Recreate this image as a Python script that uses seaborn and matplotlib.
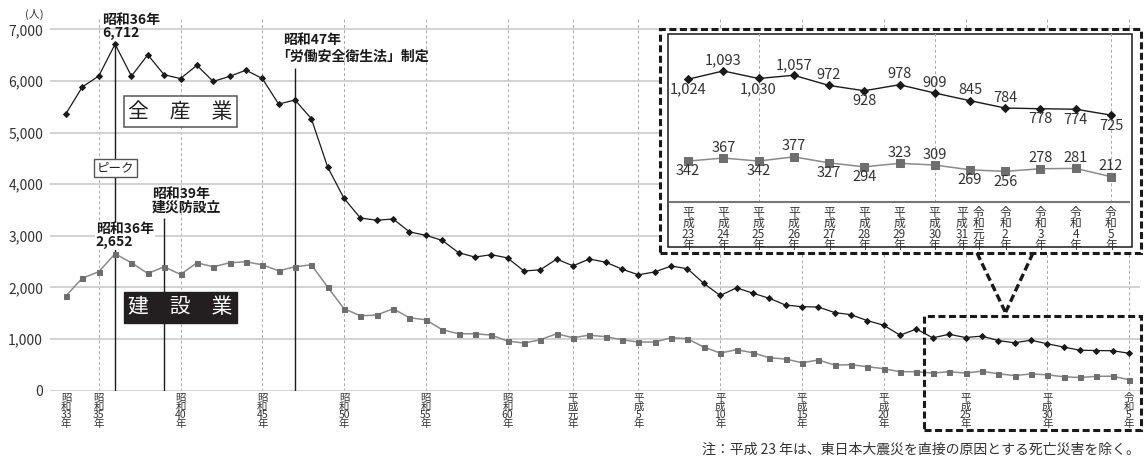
import matplotlib
matplotlib.use("Agg")
import matplotlib.pyplot as plt
import seaborn as sns
from matplotlib.patches import Rectangle
from matplotlib.lines import Line2D

# ===== データ =====
years = list(range(1958, 2024))
all_industries = [5368, 5885, 6095, 6712, 6093, 6506, 6119, 6046, 6303, 5990,
                  6088, 6208, 6048, 5552, 5631, 5269, 4330, 3725, 3345, 3302,
                  3326, 3077, 3009, 2912, 2674, 2588, 2635, 2572, 2318, 2342,
                  2549, 2419, 2550, 2489, 2354, 2245, 2301, 2414, 2363, 2078,
                  1844, 1992, 1889, 1790, 1658, 1628, 1620, 1514, 1472, 1357,
                  1268, 1075, 1195, 1024, 1093, 1030, 1057, 972, 928, 978,
                  909, 845, 784, 778, 774, 725]
construction = [1839, 2181, 2303, 2652, 2477, 2271, 2400, 2252, 2477, 2400,
                2477, 2497, 2439, 2323, 2400, 2439, 2006, 1587, 1452, 1465,
                1587, 1413, 1374, 1181, 1103, 1103, 1077, 961, 923, 987,
                1103, 1026, 1077, 1045, 987, 942, 942, 1026, 1006, 845,
                729, 794, 735, 639, 613, 542, 594, 497, 503, 465,
                426, 368, 368, 342, 367, 342, 377, 327, 294, 323,
                309, 269, 256, 278, 281, 212]

tick_years = [1958, 1960, 1965, 1970, 1975, 1980, 1985, 1989, 1993, 1998,
              2003, 2008, 2013, 2018, 2023]
tick_labels = ["昭\n和\n33\n年", "昭\n和\n35\n年", "昭\n和\n40\n年", "昭\n和\n45\n年",
               "昭\n和\n50\n年", "昭\n和\n55\n年", "昭\n和\n60\n年", "平\n成\n元\n年",
               "平\n成\n5\n年", "平\n成\n10\n年", "平\n成\n15\n年", "平\n成\n20\n年",
               "平\n成\n25\n年", "平\n成\n30\n年", "令\n和\n5\n年"]
y_ticks = [0, 1000, 2000, 3000, 4000, 5000, 6000, 7000]

# 拡大図（平成23年～令和5年）
inset_years = years[53:]
inset_all = all_industries[53:]
inset_con = construction[53:]
inset_all_pos = ["down", "up", "down", "up", "up", "down", "up", "up", "up", "up",
                 "down", "down", "down"]
inset_con_pos = ["down", "up", "down", "up", "down", "down", "up", "up", "down", "down",
                 "up", "up", "up"]
inset_tick_labels = ["平\n成\n23\n年", "平\n成\n24\n年", "平\n成\n25\n年", "平\n成\n26\n年",
                     "平\n成\n27\n年", "平\n成\n28\n年", "平\n成\n29\n年", "平\n成\n30\n年",
                     "平\n成\n31\n年", "令\n和\n元\n年", "令\n和\n2\n年", "令\n和\n3\n年",
                     "令\n和\n4\n年", "令\n和\n5\n年"]
inset_grid_idx = [2, 7, 12]

# ===== スタイル =====
sns.set_theme(style="white")
plt.rcParams["font.family"] = ["Noto Sans CJK JP", "DejaVu Sans"]

W, H = 1144, 458
BLACK = "#1a1a1a"
GRAY = "#6e6e6e"


def fx(x):
    return x / W


def fy(y):
    return 1 - y / H


fig = plt.figure(figsize=(W / 100, H / 100), dpi=100)

# ===== メインチャート =====
ax = fig.add_axes([fx(50), fy(390.7), (1140 - 50) / W, (390.7 - 18) / H])
ax.set_xlim(1957.02, 2023.67)
ax.set_ylim(0, 7219)
for s in ax.spines.values():
    s.set_visible(False)

ax.set_yticks(y_ticks, [f"{v:,}" for v in y_ticks])
ax.yaxis.grid(True, color="#cfcfcf", lw=1.3)
ax.set_axisbelow(True)
for yv in tick_years[1:]:
    ax.axvline(yv, color="#a8a8a8", lw=0.7, ls=(0, (3, 2.5)), zorder=0)
ax.set_xticks(tick_years, tick_labels)
ax.tick_params(axis="x", length=0, pad=2, labelsize=7.5, labelcolor="#333333")
ax.tick_params(axis="y", length=0, pad=5, labelsize=10, labelcolor="#333333")
for lbl in ax.get_xticklabels():
    lbl.set_linespacing(0.8)

sns.lineplot(x=years, y=construction, ax=ax, color="#8a8a8a", lw=1.1,
             marker="s", markersize=3.6, markerfacecolor=GRAY,
             markeredgecolor=GRAY, zorder=3)
sns.lineplot(x=years, y=all_industries, ax=ax, color=BLACK, lw=0.9,
             marker="D", markersize=3.0, markerfacecolor=BLACK,
             markeredgecolor=BLACK, zorder=3)

# 注釈線
peak_i = all_industries.index(max(all_industries))
peak_year = years[peak_i]
ax.vlines(peak_year, 0, all_industries[peak_i], color=BLACK, lw=1.0, zorder=2)
ax.vlines(1964, 0, 3350, color=BLACK, lw=1.0, zorder=2)
ax.vlines(1972, 0, 6260, color=BLACK, lw=1.0, zorder=2)

bold = dict(fontsize=10, fontweight="bold", color=BLACK, linespacing=0.88)
ax.text(1960.2, 6800, f"昭和36年\n{all_industries[peak_i]:,}", ha="left", va="bottom",
        zorder=5, **bold)
ax.text(1959.83, 2745, f"昭和36年\n{construction[peak_i]:,}", ha="left", va="bottom",
        zorder=5, bbox=dict(facecolor="white", edgecolor="none", pad=0.5), **bold)
ax.text(1963.25, 3420, "昭和39年\n建災防設立", ha="left", va="bottom", zorder=5, **bold)
ax.annotate("「労働安全衛生法」制定", (1971.26, 6347), xytext=(-5, 0),
            textcoords="offset points", ha="left", va="bottom", zorder=5, **bold)
ax.annotate("昭和47年", (1971.26, 6347), xytext=(0, 11.5), textcoords="offset points",
            ha="left", va="bottom", zorder=5, **bold)

ax.text(peak_year, 4313, "ピーク", ha="center", va="center", fontsize=9, color="#222222",
        zorder=5, bbox=dict(boxstyle="square,pad=0.22", facecolor="white",
                            edgecolor="#555555", lw=1.0))
ax.text(1965.0, 5400, "全　産　業", ha="center", va="center", fontsize=15, color="#222222",
        zorder=5, bbox=dict(boxstyle="square,pad=0.22", facecolor="white",
                            edgecolor="#555555", lw=1.1))
ax.text(1965.0, 1617, "建　設　業", ha="center", va="center", fontsize=15, color="white",
        zorder=5, bbox=dict(boxstyle="square,pad=0.22", facecolor="#231f20",
                            edgecolor="#231f20", lw=1.0))

fig.text(fx(34), fy(14), "(人)", ha="center", va="center", fontsize=8, color="#333333")
fig.text(fx(1140), fy(450), "注：平成 23 年は、東日本大震災を直接の原因とする死亡災害を除く。",
         ha="right", va="center", fontsize=10, color="#333333")

# ===== 拡大図の枠 =====
dash = (0, (2.3, 1.15))
fig.add_artist(Rectangle((fx(660), fy(252.5)), (1141.5 - 660) / W, (252.5 - 28.5) / H,
                         transform=fig.transFigure, facecolor="white", edgecolor="none",
                         zorder=2))
fig.add_artist(Rectangle((fx(660), fy(252.5)), (1141.5 - 660) / W, (252.5 - 28.5) / H,
                         transform=fig.transFigure, facecolor="none", edgecolor=BLACK,
                         lw=2.2, ls=dash, zorder=4))
fig.add_artist(Rectangle((fx(668), fy(246.5)), (1132 - 668) / W, (246.5 - 33.5) / H,
                         transform=fig.transFigure, facecolor="none", edgecolor=BLACK,
                         lw=1.1, zorder=4))
fig.add_artist(Rectangle((fx(924), fy(430)), (1141 - 924) / W, (430 - 316) / H,
                         transform=fig.transFigure, facecolor="none", edgecolor=BLACK,
                         lw=2.2, ls=dash, zorder=4))
fig.add_artist(Line2D([fx(977), fx(1005.5)], [fy(253), fy(312.5)], transform=fig.transFigure,
                      color=BLACK, lw=2.4, ls=dash, zorder=4))
fig.add_artist(Line2D([fx(1033), fx(1005.5)], [fy(253), fy(312.5)], transform=fig.transFigure,
                      color=BLACK, lw=2.4, ls=dash, zorder=4))

# ===== 拡大図 =====
axi = fig.add_axes([fx(670.4), fy(202.1), (1128.6 - 670.4) / W, (202.1 - 33.5) / H])
axi.set_zorder(5)
axi.patch.set_alpha(0)
n = len(inset_years)
idx = list(range(n))
axi.set_xlim(-0.5, n - 0.5)
axi.set_ylim(0, (202.1 - 33.5) / 0.12)
for k, s in axi.spines.items():
    s.set_visible(k == "bottom")
axi.spines["bottom"].set_color("#777777")
axi.spines["bottom"].set_linewidth(1.5)
axi.set_yticks([])

for i in inset_grid_idx:
    axi.axvline(i, color="#a8a8a8", lw=0.7, ls=(0, (3, 2.5)), zorder=0)

tick_pos = idx[:8] + [7.77, 8.23] + idx[9:]
axi.set_xticks(tick_pos, inset_tick_labels)
axi.set_xticks([i - 0.5 for i in range(n + 1)], minor=True)
axi.tick_params(axis="x", which="major", length=0, pad=3, labelsize=8.5,
                labelcolor="#333333")
axi.tick_params(axis="x", which="minor", direction="in", length=3.5, width=1.0,
                color="#555555")
for lbl in axi.get_xticklabels():
    lbl.set_linespacing(0.78)

sns.lineplot(x=idx, y=inset_con, ax=axi, color="#8a8a8a", lw=1.1,
             marker="s", markersize=5.8, markerfacecolor=GRAY,
             markeredgecolor=GRAY, zorder=3)
sns.lineplot(x=idx, y=inset_all, ax=axi, color=BLACK, lw=1.0,
             marker="D", markersize=4.2, markerfacecolor=BLACK,
             markeredgecolor=BLACK, zorder=3)

for series, pos in ((inset_all, inset_all_pos), (inset_con, inset_con_pos)):
    for i, (v, p) in enumerate(zip(series, pos)):
        off = 7.5 if p == "up" else -7.5
        axi.annotate(f"{v:,}", (i, v), xytext=(0, off), textcoords="offset points",
                     ha="center", va="center", fontsize=10.5, color="#333333")

fig.savefig("out.png", dpi=100)
